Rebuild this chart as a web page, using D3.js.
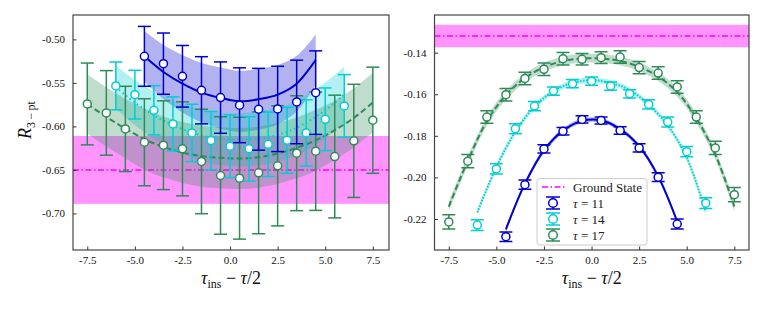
<!DOCTYPE html>
<html>
<head>
<meta charset="utf-8">
<script src="https://cdn.jsdelivr.net/npm/d3@7"></script>
<style>
body { margin: 0; background: #fff; }
text { font-family: "Liberation Serif", "DejaVu Serif", serif; }
</style>
</head>
<body>
<div id="chart"></div>
<script>
var W = 764, H = 309;

// insertion times for each source-sink separation
var x11 = [-4.5, -3.5, -2.5, -1.5, -0.5, 0.5, 1.5, 2.5, 3.5, 4.5];
var x14 = [-6, -5, -4, -3, -2, -1, 0, 1, 2, 3, 4, 5, 6];
var x17 = [-7.5, -6.5, -5.5, -4.5, -3.5, -2.5, -1.5, -0.5, 0.5, 1.5, 2.5, 3.5, 4.5, 5.5, 6.5, 7.5];

var xTicks = [-7.5, -5, -2.5, 0, 2.5, 5, 7.5];
var leftYTicks = [-0.50, -0.55, -0.60, -0.65, -0.70];
var rightYTicks = [-0.14, -0.16, -0.18, -0.20, -0.22];

// left panel: R_3pt data
var left11 = [-0.5195, -0.5279, -0.5424, -0.5585, -0.5669, -0.5757, -0.5803, -0.5799, -0.5719, -0.5612];
var left11Err = [0.0344, 0.0352, 0.0354, 0.0386, 0.041, 0.043, 0.047, 0.049, 0.048, 0.048];
var left14 = [-0.5535, -0.5635, -0.5815, -0.5971, -0.6075, -0.6163, -0.6228, -0.6258, -0.6205, -0.6159, -0.6075, -0.5918, -0.5765];
var left14Err = [0.0275, 0.028, 0.0283, 0.031, 0.033, 0.0335, 0.036, 0.037, 0.037, 0.038, 0.038, 0.036, 0.036];
var left17 = [-0.5742, -0.5845, -0.6029, -0.6182, -0.6216, -0.6258, -0.6403, -0.6564, -0.6595, -0.6533, -0.6453, -0.6308, -0.6285, -0.6346, -0.6166, -0.5929];
var left17Err = [0.047, 0.0486, 0.049, 0.05, 0.051, 0.054, 0.06, 0.0675, 0.07, 0.07, 0.069, 0.066, 0.068, 0.0705, 0.065, 0.061];

// left panel: fit curves and bands
var fitL11 = [-0.5195, -0.5375, -0.5509, -0.5612, -0.5673, -0.5711, -0.5688, -0.5635, -0.5509, -0.5233];
var fitL11Err = [0.029, 0.031, 0.033, 0.034, 0.035, 0.035, 0.035, 0.034, 0.032, 0.029];
var fitL14 = [-0.5547, -0.5727, -0.5872, -0.5987, -0.6071, -0.6128, -0.6151, -0.6147, -0.612, -0.6063, -0.5956, -0.5815, -0.5635];
var fitL14Err = [0.025, 0.026, 0.027, 0.028, 0.029, 0.03, 0.03, 0.031, 0.031, 0.031, 0.032, 0.032, 0.032];
var fitL17 = [-0.5742, -0.5891, -0.6025, -0.6147, -0.6235, -0.630, -0.6342, -0.6361, -0.6369, -0.6354, -0.6312, -0.6247, -0.6159, -0.6044, -0.5902, -0.5727];
var fitL17Err = [0.034, 0.034, 0.034, 0.035, 0.035, 0.035, 0.035, 0.035, 0.035, 0.035, 0.035, 0.035, 0.035, 0.034, 0.034, 0.034];

// right panel data
var right11 = [-0.2285, -0.2035, -0.1863, -0.1778, -0.1721, -0.1726, -0.1774, -0.1858, -0.1999, -0.2224];
var right11Err = [0.0023, 0.0022, 0.002, 0.0018, 0.0017, 0.0017, 0.0018, 0.002, 0.0021, 0.0024];
var right14 = [-0.2229, -0.1959, -0.1766, -0.1657, -0.1585, -0.1549, -0.1537, -0.1561, -0.1598, -0.1649, -0.1734, -0.1876, -0.2124];
var right14Err = [0.0026, 0.0025, 0.0024, 0.0022, 0.002, 0.002, 0.002, 0.002, 0.002, 0.0022, 0.0024, 0.0025, 0.0026];
var right17 = [-0.2214, -0.1922, -0.171, -0.1602, -0.1524, -0.148, -0.1429, -0.1432, -0.1424, -0.1421, -0.1472, -0.1498, -0.1565, -0.171, -0.1858, -0.2083];
var right17Err = [0.0034, 0.0032, 0.003, 0.003, 0.003, 0.003, 0.003, 0.0028, 0.0028, 0.003, 0.003, 0.003, 0.003, 0.003, 0.0032, 0.0034];

var fitR11 = [-0.225, -0.203, -0.187, -0.1775, -0.1728, -0.1725, -0.1768, -0.185, -0.1995, -0.2212];
var fitR11Err = [0.0014, 0.0013, 0.0012, 0.0011, 0.0011, 0.0011, 0.0011, 0.0012, 0.0013, 0.0014];
var fitR14 = [-0.2168, -0.195, -0.178, -0.166, -0.1585, -0.1545, -0.1533, -0.1545, -0.158, -0.165, -0.175, -0.1905, -0.2165];
var fitR14Err = [0.0016, 0.0015, 0.0014, 0.0013, 0.0013, 0.0013, 0.0013, 0.0013, 0.0013, 0.0013, 0.0014, 0.0015, 0.0016];
var fitR17 = [-0.214, -0.192, -0.173, -0.1605, -0.1522, -0.147, -0.144, -0.1428, -0.1428, -0.144, -0.1468, -0.1515, -0.159, -0.1715, -0.189, -0.214];
var fitR17Err = [0.0024, 0.0023, 0.0022, 0.0022, 0.0021, 0.0021, 0.0021, 0.0021, 0.0021, 0.0021, 0.0021, 0.0021, 0.0022, 0.0022, 0.0023, 0.0024];

// ground state value and uncertainty
var gsLeft = -0.650, gsLeftErr = 0.039;
var gsRight = -0.132, gsRightErr = 0.0054;

var legendLabels = ["Ground State", "11", "14", "17"];

var cBlue = "#0000cd", cCyan = "#00ced1", cGreen = "#2e8b57", cMag = "#ff00ff";

var svg = d3.select("#chart").append("svg")
  .attr("width", W).attr("height", H);
svg.append("rect").attr("width", W).attr("height", H).attr("fill", "#fff");

function zip(xs, ys, es) {
  return xs.map(function(x, i) { return {x: x, y: ys[i], e: es[i]}; });
}

function panel(cfg) {
  var x = d3.scaleLinear().domain(cfg.xDom).range([cfg.left, cfg.right]);
  var y = d3.scaleLinear().domain(cfg.yDom).range([250, 15]);
  var g = svg.append("g");

  g.append("clipPath").attr("id", cfg.id)
    .append("rect").attr("x", cfg.left).attr("y", 15)
    .attr("width", cfg.right - cfg.left).attr("height", 235);
  var plot = g.append("g").attr("clip-path", "url(#" + cfg.id + ")");

  // ground state band + line
  plot.append("rect")
    .attr("x", cfg.left).attr("width", cfg.right - cfg.left)
    .attr("y", y(cfg.gs + cfg.gsErr))
    .attr("height", y(cfg.gs - cfg.gsErr) - y(cfg.gs + cfg.gsErr))
    .attr("fill", cMag).attr("fill-opacity", 0.42);
  plot.append("line")
    .attr("x1", cfg.left).attr("x2", cfg.right)
    .attr("y1", y(cfg.gs)).attr("y2", y(cfg.gs))
    .attr("stroke", cMag).attr("stroke-width", 1.5)
    .attr("stroke-dasharray", "6,2.5,1.5,2.5");

  var area = d3.area().curve(d3.curveCatmullRom)
    .x(function(d) { return x(d.x); })
    .y0(function(d) { return y(d.y - d.e); })
    .y1(function(d) { return y(d.y + d.e); });
  var line = d3.line().curve(d3.curveCatmullRom)
    .x(function(d) { return x(d.x); })
    .y(function(d) { return y(d.y); });

  cfg.series.forEach(function(s) {
    plot.append("path").attr("d", area(s.fit))
      .attr("fill", s.color).attr("fill-opacity", cfg.bandOpacity);
  });
  cfg.series.forEach(function(s) {
    plot.append("path").attr("d", line(s.fit))
      .attr("fill", "none").attr("stroke", s.color)
      .attr("stroke-width", 2).attr("stroke-dasharray", s.dash);
  });

  // error bars and markers, longest separation first
  cfg.series.slice().reverse().forEach(function(s) {
    var eg = plot.append("g").attr("stroke", s.color).attr("stroke-width", 1.5);
    s.pts.forEach(function(d) {
      var px = x(d.x);
      eg.append("line").attr("x1", px).attr("x2", px)
        .attr("y1", y(d.y - d.e)).attr("y2", y(d.y + d.e));
      [d.y - d.e, d.y + d.e].forEach(function(v) {
        eg.append("line").attr("x1", px - 6.5).attr("x2", px + 6.5)
          .attr("y1", y(v)).attr("y2", y(v));
      });
    });
    plot.selectAll(null).data(s.pts).enter().append("circle")
      .attr("cx", function(d) { return x(d.x); })
      .attr("cy", function(d) { return y(d.y); })
      .attr("r", 4).attr("fill", "#fff")
      .attr("stroke", s.color).attr("stroke-width", 1.5);
  });

  // axes
  var xa = g.append("g").attr("transform", "translate(0,250)")
    .call(d3.axisBottom(x).tickValues(xTicks).tickSize(-3.5).tickPadding(6)
      .tickFormat(d3.format(".1f")));
  var ya = g.append("g").attr("transform", "translate(" + cfg.left + ",0)")
    .call(d3.axisLeft(y).tickValues(cfg.yTicks).tickSize(-3.5).tickPadding(8)
      .tickFormat(d3.format(cfg.yFmt)));
  [xa, ya].forEach(function(a) {
    a.select(".domain").remove();
    a.selectAll("line").attr("stroke", "#333");
    a.selectAll("text").attr("font-size", 11).attr("fill", "#111")
      .attr("font-family", "Liberation Serif")
      .text(function(d) { return d3.format(a === xa ? ".1f" : cfg.yFmt)(d).replace("\u2212", "-"); });
  });

  g.append("rect").attr("x", cfg.left).attr("y", 15)
    .attr("width", cfg.right - cfg.left).attr("height", 235)
    .attr("fill", "none").attr("stroke", "#444").attr("stroke-width", 1.2);

  // x label
  var t = g.append("text").attr("x", (cfg.left + cfg.right) / 2).attr("y", 284)
    .attr("text-anchor", "middle").attr("font-size", 18).attr("fill", "#111");
  t.append("tspan").attr("font-style", "italic").text("τ");
  t.append("tspan").attr("font-size", 12).attr("dy", 4).text("ins");
  t.append("tspan").attr("dy", -4).text(" \u2212 ");
  t.append("tspan").attr("font-style", "italic").text("τ");
  t.append("tspan").text("/2");

  return {x: x, y: y};
}

var seriesL = [
  {color: cBlue, dash: null, pts: zip(x11, left11, left11Err), fit: zip(x11, fitL11, fitL11Err)},
  {color: cCyan, dash: "1.5,3", pts: zip(x14, left14, left14Err), fit: zip(x14, fitL14, fitL14Err)},
  {color: cGreen, dash: "6,3", pts: zip(x17, left17, left17Err), fit: zip(x17, fitL17, fitL17Err)}
];
var seriesR = [
  {color: cBlue, dash: null, pts: zip(x11, right11, right11Err), fit: zip(x11, fitR11, fitR11Err)},
  {color: cCyan, dash: "1.5,1.5", pts: zip(x14, right14, right14Err), fit: zip(x14, fitR14, fitR14Err)},
  {color: cGreen, dash: "6,3", pts: zip(x17, right17, right17Err), fit: zip(x17, fitR17, fitR17Err)}
];

panel({id: "clipL", left: 73, right: 389, xDom: [-8.25, 8.35], yDom: [-0.742, -0.472],
  yTicks: leftYTicks, yFmt: ".2f", gs: gsLeft, gsErr: gsLeftErr, bandOpacity: 0.3, series: seriesL});
panel({id: "clipR", left: 434.5, right: 749, xDom: [-8.25, 8.27], yDom: [-0.2349, -0.1219],
  yTicks: rightYTicks, yFmt: ".2f", gs: gsRight, gsErr: gsRightErr, bandOpacity: 0.3, series: seriesR});

// y label
var yl = svg.append("text").attr("transform", "translate(31,120) rotate(-90)")
  .attr("text-anchor", "middle").attr("font-size", 18).attr("fill", "#111");
yl.append("tspan").attr("font-style", "italic").text("R");
yl.append("tspan").attr("font-size", 12).attr("dy", 4).text("3\u2009\u2212\u2009pt");

// legend
var lg = svg.append("g");
lg.append("rect").attr("x", 537).attr("y", 178.5).attr("width", 110).attr("height", 66.5)
  .attr("rx", 3).attr("fill", "#fff").attr("fill-opacity", 0.85)
  .attr("stroke", "#ccc").attr("stroke-width", 1);
var rowY = [187, 203, 219, 235];
lg.append("line").attr("x1", 542).attr("x2", 565).attr("y1", rowY[0]).attr("y2", rowY[0])
  .attr("stroke", cMag).attr("stroke-width", 1.5).attr("stroke-dasharray", "6,2.5,1.5,2.5");
[cBlue, cCyan, cGreen].forEach(function(c, i) {
  var yy = rowY[i + 1];
  lg.append("line").attr("x1", 553).attr("x2", 553).attr("y1", yy - 6).attr("y2", yy + 6)
    .attr("stroke", c).attr("stroke-width", 1.5);
  [yy - 6, yy + 6].forEach(function(v) {
    lg.append("line").attr("x1", 546).attr("x2", 560).attr("y1", v).attr("y2", v)
      .attr("stroke", c).attr("stroke-width", 1.5);
  });
  lg.append("circle").attr("cx", 553).attr("cy", yy).attr("r", 4.3)
    .attr("fill", "#fff").attr("stroke", c).attr("stroke-width", 1.5);
});
legendLabels.forEach(function(l, i) {
  var tt = lg.append("text").attr("x", 573).attr("y", rowY[i] + 4.5)
    .attr("font-size", 13).attr("fill", "#222");
  if (i === 0) { tt.text(l); return; }
  tt.append("tspan").attr("font-style", "italic").text("τ");
  tt.append("tspan").text(" = " + l);
});
</script>
</body>
</html>
